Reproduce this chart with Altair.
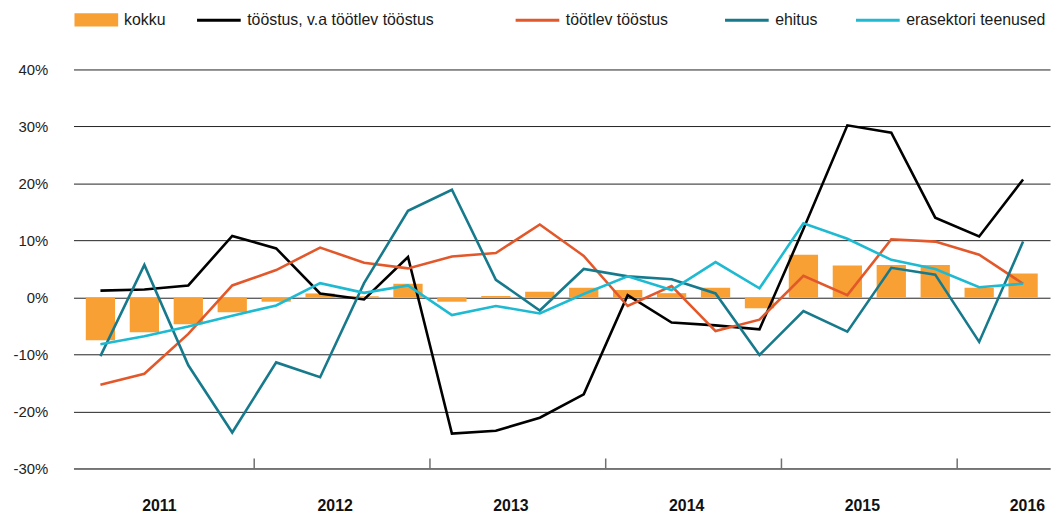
import altair as alt
import pandas as pd

# ---- data -------------------------------------------------------------
years = ["2011", "2012", "2013", "2014", "2015", "2016"]
quarters_per_year = [4, 4, 4, 4, 4, 2]

kokku = [-7.5, -6.1, -4.7, -2.6, -0.75, 0.7, 0.2, 2.4, -0.75, 0.25, 1.0, 1.7,
         1.3, 0.75, 1.7, -1.9, 7.5, 5.6, 5.7, 5.7, 1.7, 4.2]
toostus_va = [1.2, 1.4, 2.1, 10.8, 8.6, 0.7, -0.35, 7.1, -23.9, -23.4, -21.1,
              -17.0, 0.4, -4.4, -4.9, -5.6, 12.0, 30.2, 28.9, 14.0, 10.7, 20.7]
tootlev = [-15.3, -13.4, -6.4, 2.1, 4.8, 8.75, 6.1, 5.1, 7.2, 7.8, 12.8, 7.3,
           -1.5, 2.0, -5.9, -3.9, 3.8, 0.4, 10.2, 9.8, 7.5, 2.4]
ehitus = [-10.3, 5.7, -11.9, -23.7, -11.4, -14.0, 2.5, 15.2, 18.9, 3.1, -2.3,
          5.0, 3.7, 3.2, 0.7, -10.1, -2.4, -6.0, 5.2, 4.0, -7.8, 9.8]
erasektor = [-8.2, -6.8, -5.1, -3.2, -1.4, 2.5, 0.8, 2.1, -3.1, -1.5, -2.8,
             0.6, 3.7, 1.3, 6.2, 1.6, 13.0, 10.3, 6.6, 5.0, 1.8, 2.4]

names = ["kokku", "tööstus, v.a töötlev tööstus", "töötlev tööstus",
         "ehitus", "erasektori teenused"]
colors = ["#F8A034", "#000000", "#E2582A", "#177A8C", "#1DBAD2"]
y_ticks = [-30, -20, -10, 0, 10, 20, 30, 40]

# ---- tables -----------------------------------------------------------
quarter_labels = []
for y, n in zip(years, quarters_per_year):
    for q in range(n):
        quarter_labels.append(f"{y}Q{q + 1}")
n_q = len(quarter_labels)
pos = [i + 0.5 for i in range(n_q)]

bars_df = pd.DataFrame({"quarter": quarter_labels, "pos": pos,
                        "value": kokku, "series": names[0]})
line_series = [toostus_va, tootlev, ehitus, erasektor]
lines_df = pd.concat([
    pd.DataFrame({"quarter": quarter_labels, "pos": pos, "value": vals,
                  "series": nm})
    for nm, vals in zip(names[1:], line_series)
])

starts = []
s = 0
for n in quarters_per_year:
    starts.append(s)
    s += n
sep_df = pd.DataFrame({"pos": starts[1:]})
full_years_df = pd.DataFrame({
    "year": [y for y, n in zip(years, quarters_per_year) if n == 4],
    "pos": [st + n / 2 for st, n in zip(starts, quarters_per_year) if n == 4],
})
last_year_df = pd.DataFrame({"year": [years[-1]], "pos": [n_q]})

# ---- scales / axes ----------------------------------------------------
W, H = 984, 402
xs = alt.Scale(domain=[0, n_q], nice=False, zero=False)
ys = alt.Scale(domain=[-30, 40], nice=False, zero=False)

x_axis = alt.Axis(domain=True, domainColor="#707070", domainWidth=1.5,
                  ticks=False, labels=False, grid=False, title=None)
y_axis = alt.Axis(values=y_ticks, labelExpr="datum.value + '%'", grid=True,
                  gridColor="#222222", gridWidth=1, domain=False, ticks=False,
                  tickSize=0, labelPadding=26, labelFontSize=15,
                  labelFont="Liberation Sans", labelColor="#222222", title=None)


def X():
    return alt.X("pos:Q", scale=xs, axis=x_axis)


def Y():
    return alt.Y("value:Q", scale=ys, axis=y_axis)


LABEL_FONT = "Liberation Sans"
LEG_Y = -73


def legend(x, symbol, stroke_w=None):
    kw = dict(orient="none", legendX=x, legendY=LEG_Y, title=None, padding=0,
              symbolType=symbol, symbolSize=1936, labelFont=LABEL_FONT,
              labelFontSize=16, labelColor="#1a1a1a", labelOffset=5,
              labelLimit=0)
    if stroke_w is not None:
        kw["symbolStrokeWidth"] = stroke_w
    return alt.Legend(**kw)


bars = alt.Chart(bars_df).mark_bar(size=29.5).encode(
    x=X(),
    y=Y(),
    y2=alt.datum(0),
    color=alt.Color("series:N",
                    scale=alt.Scale(domain=[names[0]], range=[colors[0]]),
                    legend=legend(0, "M-1,-0.3H1V0.3H-1Z")),
)

legend_x = [123, 444, 655, 787]
line_layers = []
for nm, col, lx in zip(names[1:], colors[1:], legend_x):
    line_layers.append(
        alt.Chart(lines_df).transform_filter(alt.datum.series == nm)
        .mark_line(strokeWidth=2.6)
        .encode(
            x=X(),
            y=Y(),
            color=alt.Color("series:N",
                            scale=alt.Scale(domain=[nm], range=[col]),
                            legend=legend(lx, "stroke", 3)),
        )
    )

seps = alt.Chart(sep_df).mark_rule(color="#707070", strokeWidth=1.5).encode(
    x=X(),
    y=alt.value(H),
    y2=alt.value(H - 10),
)

year_text = alt.Chart(full_years_df).mark_text(
    fontSize=16, fontWeight="bold", font=LABEL_FONT, color="#111111",
    baseline="middle", align="center", dx=-7,
).encode(x=X(), y=alt.value(H + 38), text="year:N")

last_text = alt.Chart(last_year_df).mark_text(
    fontSize=16, fontWeight="bold", font=LABEL_FONT, color="#111111",
    baseline="middle", align="right",
).encode(x=X(), y=alt.value(H + 38), text="year:N")

chart = alt.layer(bars, *line_layers, seps, year_text, last_text).resolve_scale(
    color="independent"
).properties(
    width=W, height=H,
    autosize=alt.AutoSizeParams(type="none"),
    padding={"left": 66, "top": 60, "right": 4, "bottom": 46},
).configure_view(stroke=None)

chart.save("out.html", embed_options={"renderer": "svg", "actions": False})
